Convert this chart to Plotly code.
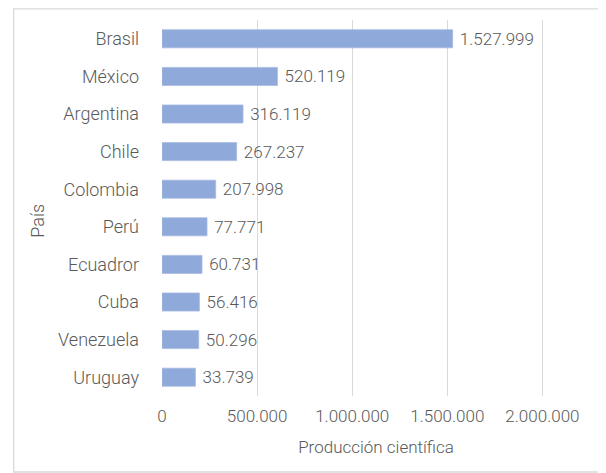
import plotly.graph_objects as go

paises = ["Brasil", "México", "Argentina", "Chile", "Colombia",
          "Perú", "Ecuadror", "Cuba", "Venezuela", "Uruguay"]
# bar lengths as drawn in the picture
longitud_barras = [1527999, 606700, 425900, 392700, 282300,
                   236600, 210300, 196600, 193000, 175600]
# data labels as printed in the picture
etiquetas = ["1.527.999", "520.119", "316.119", "267.237", "207.998",
             "77.771", "60.731", "56.416", "50.296", "33.739"]
x_ticks = [0, 500000, 1000000, 1500000, 2000000]
x_ticktext = ["0", "500.000", "1.000.000", "1.500.000", "2.000.000"]

# page body has an 8px default margin; figure sized to the visible area
W, H = 598, 465
L, R, T, B = 154.3, 15.7, 12, 77
PW, PH = W - L - R, H - T - B
FONT = "Roboto"
GRAY = "#595959"

def px_x(x):
    return (x - L) / PW

def px_y(y):
    return (H - B - y) / PH

fig = go.Figure(go.Bar(
    y=paises, x=longitud_barras, orientation="h",
    text=etiquetas, texttemplate="\u00a0%{text}",
    textposition="outside", constraintext="none",
    cliponaxis=False, width=0.48,
    marker=dict(color="#8FA9DA", line=dict(color="#A7BAE2", width=0.8)),
    textfont=dict(family=FONT, size=17, color=GRAY, weight=300),
))

fig.update_layout(
    width=W, height=H,
    margin=dict(l=L, r=R, t=T, b=B, autoexpand=False),
    paper_bgcolor="white", plot_bgcolor="white",
    font=dict(family=FONT, size=17, color=GRAY, weight=300),
    showlegend=False,
    xaxis=dict(range=[0, 2250000], tickvals=x_ticks, ticktext=x_ticktext,
               showgrid=True, gridcolor="#D9D9D9", gridwidth=1.3,
               zeroline=False, showline=False, ticks="",
               ticklabelstandoff=8,
               tickfont=dict(family=FONT, size=17, color=GRAY, weight=300),
               title=dict(text="Producción científica", standoff=16,
                          font=dict(family=FONT, size=17, color=GRAY, weight=300))),
    yaxis=dict(categoryorder="array", categoryarray=paises[::-1],
               showgrid=False, zeroline=False, showline=False, ticks="",
               ticklabelstandoff=22,
               tickfont=dict(family=FONT, size=18, color=GRAY, weight=300)),
    shapes=[dict(type="rect", xref="paper", yref="paper",
                 x0=px_x(6), x1=px_x(610), y0=px_y(464), y1=px_y(0.8),
                 line=dict(color="#D9D9D9", width=1.3), layer="below")],
    annotations=[dict(text="País", xref="paper", yref="paper",
                      x=px_x(30), y=px_y(213),
                      textangle=-90, showarrow=False,
                      xanchor="center", yanchor="middle",
                      font=dict(family=FONT, size=18, color=GRAY, weight=300))],
)

fig.write_html("out.html")
